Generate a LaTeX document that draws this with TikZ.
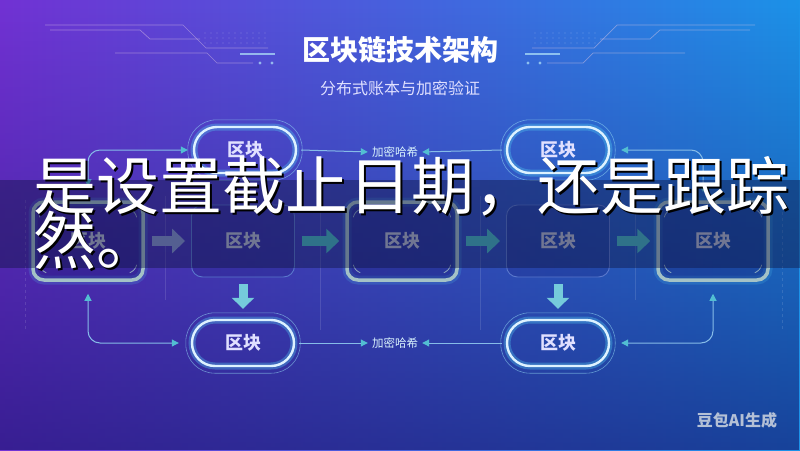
\documentclass[tikz,border=0pt]{standalone}
\usepackage{fontspec}
\usepackage{xcolor}
\usepackage{tikz}
\usetikzlibrary{arrows.meta, positioning, fadings}

\newfontfamily\cjk{Noto Sans CJK SC}

\definecolor{bgpurple}{HTML}{7232D4}
\definecolor{bgblue}{HTML}{1C92E8}
\definecolor{bgdeep}{HTML}{14126A}
\definecolor{bandcol}{HTML}{0E1440}
\definecolor{pillline}{HTML}{DDF2FF}
\definecolor{glow}{HTML}{52C8F0}
\definecolor{boxline}{HTML}{A4C2C6}
\definecolor{thinline}{HTML}{5A78CC}
\definecolor{linkline}{HTML}{86BCE8}
\definecolor{tipteal}{HTML}{52BED2}
\definecolor{arrowteal}{HTML}{48B6BE}
\definecolor{arrowgray}{HTML}{8896CC}
\definecolor{labelgray}{HTML}{B8BECE}
\definecolor{markgray}{HTML}{B4C0D6}

\tikzfading[name=fadedown, top color=transparent!100, bottom color=transparent!0]

\begin{document}
\begin{tikzpicture}[x=1pt, y=-1pt,
    pill/.style={draw=pillline, line width=2.4pt, rounded corners=23pt,
      minimum width=102pt, minimum height=46pt, text=white!88!blue,
      font=\cjk\bfseries\fontsize{18}{20}\selectfont,
      preaction={draw=glow, line width=7pt, draw opacity=0.35}},
    pillring/.style={draw=glow!60!white, line width=0.6pt, draw opacity=0.55, rounded corners=29pt},
    bigbox/.style={draw=boxline, line width=3.5pt, rounded corners=11pt,
      minimum width=110pt, minimum height=78pt, fill=bgdeep, fill opacity=0.3,
      text opacity=1, text=labelgray, font=\cjk\bfseries\fontsize{18}{20}\selectfont,
      preaction={draw=glow, line width=9pt, draw opacity=0.18}},
    smallbox/.style={draw=thinline, line width=0.9pt, rounded corners=11pt,
      minimum width=103pt, minimum height=72pt, fill=bgdeep, fill opacity=0.2,
      text opacity=1, text=labelgray, font=\cjk\bfseries\fontsize{18}{20}\selectfont},
    hashlabel/.style={font=\cjk\fontsize{11.5}{13}\selectfont, text=white!85!cyan, inner sep=2pt},
    link/.style={draw=linkline, line width=1pt, rounded corners=12pt},
    tiptri/.tip={Triangle[length=7pt, width=7pt, color=tipteal]},
    blockarrow/.style={line width=10pt, -{Triangle[length=13pt, width=24pt]},
      shorten <=7pt, shorten >=6pt},
    downarrow/.style={line width=9pt, -{Triangle[length=11pt, width=22pt]},
      draw=tipteal!80!white, shorten <=7pt, shorten >=10pt},
    tick/.style={draw=boxline, line width=0.8pt, draw opacity=0.8},
    faint/.style={draw=white, line width=0.6pt, draw opacity=0.12},
    deco/.style={draw=white!80!violet, line width=0.7pt, draw opacity=0.45},
    bandtext/.style={font=\cjk\fontsize{63}{63}\selectfont, text=white, inner sep=0pt, anchor=west},
    bandshadow/.style={bandtext, text=black}]

  \useasboundingbox (0,0) rectangle (800,450);
  \clip (0,0) rectangle (800,450);

  % Sfondo
  \shade[left color=bgpurple, right color=bgblue] (0,0) rectangle (800,450);
  \fill[bgdeep, path fading=fadedown, fill opacity=0.62] (0,0) rectangle (800,450);

  % Linee decorative
  \foreach \s in {0,1} {
    \begin{scope}[shift={(800*\s,0)}, xscale=1-2*\s]
      \draw[deco] (45,25) -- (183,25) -- (206,48) -- (268,48);
      \draw[deco] (50,30) -- (140,30) -- (150,39) -- (200,39);
      \draw[deco] (115,53) -- (207,53) -- (217,63) -- (253,63);
      \draw[white!70!cyan, line width=2pt, opacity=0.7] (240,54) -- (275,54);
      \fill[white!70!cyan, opacity=0.7] (260,63) circle (1.6) (272,63) circle (1.6);
      \foreach \yy in {33,38,43}
        \foreach \xx in {205,211,...,270}
          \fill[white, opacity=0.25] (\xx,\yy) circle (0.6);
    \end{scope}
  }
  \foreach \xx/\ya/\yb in {165/196/300, 320/196/330, 480/196/330, 635/196/300}
    \draw[faint] (\xx,\ya) -- (\xx,\yb);
  \draw[faint, dashed] (25,200) -- (25,330);
  \draw[faint, dashed] (782,200) -- (782,330);

  % Titolo
  \node[font=\cjk\bfseries\fontsize{28}{30}\selectfont, text=white] (title) at (400,50) {区块链技术架构};
  \node[font=\cjk\fontsize{16}{18}\selectfont, text=white!88!blue] (subtitle) at (400,88) {分布式账本与加密验证};

  % Blocchi centrali
  \node[bigbox] (b1) at (88,241) {区块};
  \node[smallbox] (b2) at (243,241) {区块};
  \node[bigbox] (b3) at (402,241) {区块};
  \node[smallbox] (b4) at (558,241) {区块};
  \node[bigbox] (b5) at (713,241) {区块};

  \foreach \n in {b1,b3,b5} {
    \draw[tick] ([xshift=8pt,yshift=-17pt]\n.north west) to[bend left=25] ([xshift=15pt,yshift=-9pt]\n.north west);
    \draw[tick] ([xshift=-8pt,yshift=-17pt]\n.north east) to[bend right=25] ([xshift=-15pt,yshift=-9pt]\n.north east);
    \draw[tick] ([xshift=8pt,yshift=17pt]\n.south west) to[bend right=25] ([xshift=15pt,yshift=9pt]\n.south west);
    \draw[tick] ([xshift=-8pt,yshift=17pt]\n.south east) to[bend left=25] ([xshift=-15pt,yshift=9pt]\n.south east);
  }

  % Blocchi sopra e sotto
  \node[pill] (pa) at (245,150) {区块};
  \node[pill] (pb) at (558,150) {区块};
  \node[pill] (pc) at (243,343) {区块};
  \node[pill] (pd) at (558,343) {区块};
  \foreach \n in {pa,pb,pc,pd}
    \draw[pillring] ([xshift=-5pt,yshift=-6pt]\n.south west) rectangle ([xshift=5pt,yshift=6pt]\n.north east);

  \node[hashlabel] (ha) at (395,152) {加密哈希};
  \node[hashlabel] (hb) at (395,343) {加密哈希};

  % Frecce
  \draw[blockarrow, arrowgray] (b1) -- (b2);
  \draw[blockarrow, arrowteal] (b2) -- (b3);
  \draw[blockarrow, arrowteal] (b3) -- (b4);
  \draw[blockarrow, arrowteal] (b4) -- (b5);
  \draw[downarrow] (b2.south) -- (pc.north);
  \draw[downarrow] (b4.south) -- (pd.north);

  \draw[link, -tiptri, shorten >=2pt] ([xshift=4pt]pa.east) -- (ha.west);
  \draw[link, -tiptri, shorten >=2pt] ([xshift=-4pt]pb.west) -- (ha.east);
  \draw[link, -tiptri, shorten >=2pt] ([xshift=4pt]pc.east) -- (hb.west);
  \draw[link, -tiptri, shorten >=2pt] ([xshift=-4pt]pd.west) -- (hb.east);

  \draw[link, tiptri-tiptri, shorten <=14pt, shorten >=5pt] (b1.north) |- (pa.west);
  \draw[link, tiptri-tiptri, shorten <=12pt, shorten >=12pt] (b1.south) |- (pc.west);
  \draw[link, tiptri-tiptri, shorten <=8pt, shorten >=11pt] ([xshift=-10pt]b5.north) |- (pb.east);
  \draw[link, tiptri-tiptri, shorten <=12pt, shorten >=11pt] (b5.south) |- (pd.east);

  % Fascia con testo
  \fill[bandcol, fill opacity=0.42] (0,180) rectangle (800,268);
  \node[bandshadow] (line1s) at (35.5,188.5) {是设置截止日期，还是跟踪};
  \node[bandtext] (line1) at (33,186) {是设置截止日期，还是跟踪};
  \node[bandshadow] (line2s) at (35.5,242.5) {然。};
  \node[bandtext] (line2) at (33,240) {然。};

  % Marchio
  \node[font=\cjk\bfseries\fontsize{16}{18}\selectfont, text=markgray] (mark) at (737,420) {豆包AI生成};
\end{tikzpicture}
\end{document}
